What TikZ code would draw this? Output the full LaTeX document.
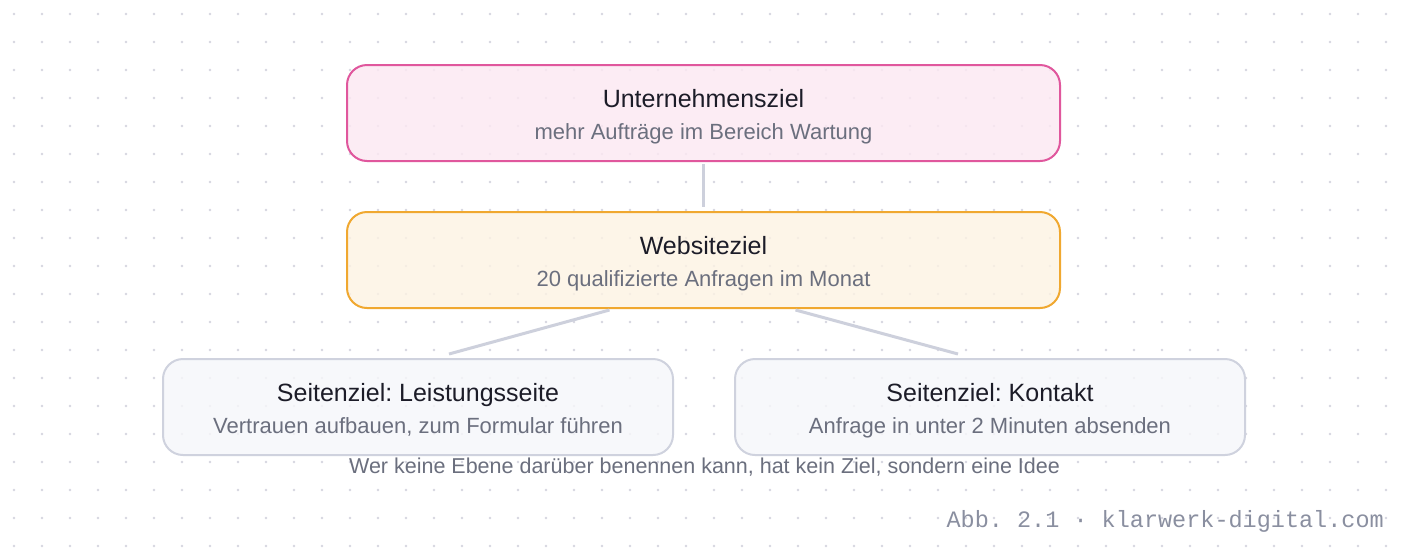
\documentclass[tikz,border=0pt]{standalone}
\usepackage{fontspec}
\setmainfont{Liberation Sans}
\newfontfamily\monofont{Liberation Mono}
\usetikzlibrary{calc}
\frenchspacing
\definecolor{dotc}{HTML}{D6D6E0}
\definecolor{pinkb}{HTML}{E0579D}
\definecolor{pinkf}{HTML}{FCE8F2}
\definecolor{orab}{HTML}{F0A830}
\definecolor{oraf}{HTML}{FDF3E3}
\definecolor{grayb}{HTML}{CFD2DE}
\definecolor{grayf}{HTML}{F6F7FA}
\definecolor{linec}{HTML}{CDD0DC}
\definecolor{titlec}{HTML}{1C1C28}
\definecolor{subc}{HTML}{6B6F7E}
\definecolor{footc}{HTML}{8A8FA0}
\tikzset{
  goalbox/.style={rectangle, rounded corners=20pt, line width=2pt, minimum width=713pt, minimum height=96pt, inner sep=0pt, fill opacity=0.8},
  pagebox/.style={goalbox, minimum width=510pt, draw=grayb, fill=grayf},
  titletxt/.style={anchor=base, inner sep=0pt, text=titlec, font=\fontsize{25}{30}\selectfont},
  subtxt/.style={anchor=base, inner sep=0pt, text=subc, font=\fontsize{22}{26}\selectfont},
  conn/.style={draw=linec, line width=3pt}
}
\begin{document}
\begin{tikzpicture}[x=1pt,y=-1pt]
\useasboundingbox (0,0) rectangle (1408,550);
\fill[white] (0,0) rectangle (1408,550);
\foreach \i in {0,...,49}{\foreach \j in {0,...,19}{\fill[dotc] (14+28*\i,14+28*\j) circle (1.4pt);}}
\node[goalbox, draw=pinkb, fill=pinkf] (uz) at (703.5,113) {};
\node[goalbox, draw=orab, fill=oraf] (wz) at (703.5,260) {};
\node[pagebox] (lz) at (418,407) {};
\node[pagebox] (kz) at (990,407) {};
\node[titletxt] (uzt) at ($(uz.center)+(0,-6)$) {Unternehmensziel};
\node[subtxt] (uzs) at ($(uz.center)+(0,26)$) {mehr Aufträge im Bereich Wartung};
\node[titletxt] (wzt) at ($(wz.center)+(0,-6)$) {Websiteziel};
\node[subtxt] (wzs) at ($(wz.center)+(0,26)$) {20 qualifizierte Anfragen im Monat};
\node[titletxt] (lzt) at ($(lz.center)+(0,-6)$) {Seitenziel: Leistungsseite};
\node[subtxt] (lzs) at ($(lz.center)+(0,26)$) {Vertrauen aufbauen, zum Formular führen};
\node[titletxt] (kzt) at ($(kz.center)+(0,-6)$) {Seitenziel: Kontakt};
\node[subtxt] (kzs) at ($(kz.center)+(0,26)$) {Anfrage in unter 2 Minuten absenden};
\draw[conn] ($(uz.south)+(0,2)$) -- ($(wz.north)+(0,-4)$);
\draw[conn] ($(wz.south)+(-94,1)$) -- ($(lz.north)+(31,-4)$);
\draw[conn] ($(wz.south)+(92,1)$) -- ($(kz.north)+(-32,-4)$);
\node[subtxt, font=\fontsize{21.5}{26}\selectfont] (cap) at (704.5,473) {Wer keine Ebene darüber benennen kann, hat kein Ziel, sondern eine Idee};
\node[anchor=base east, inner sep=0pt, text=footc, font=\monofont\fontsize{23.5}{28}\selectfont] (foot) at (1384,527) {Abb. 2.1 · klarwerk-digital.com};
\end{tikzpicture}
\end{document}
